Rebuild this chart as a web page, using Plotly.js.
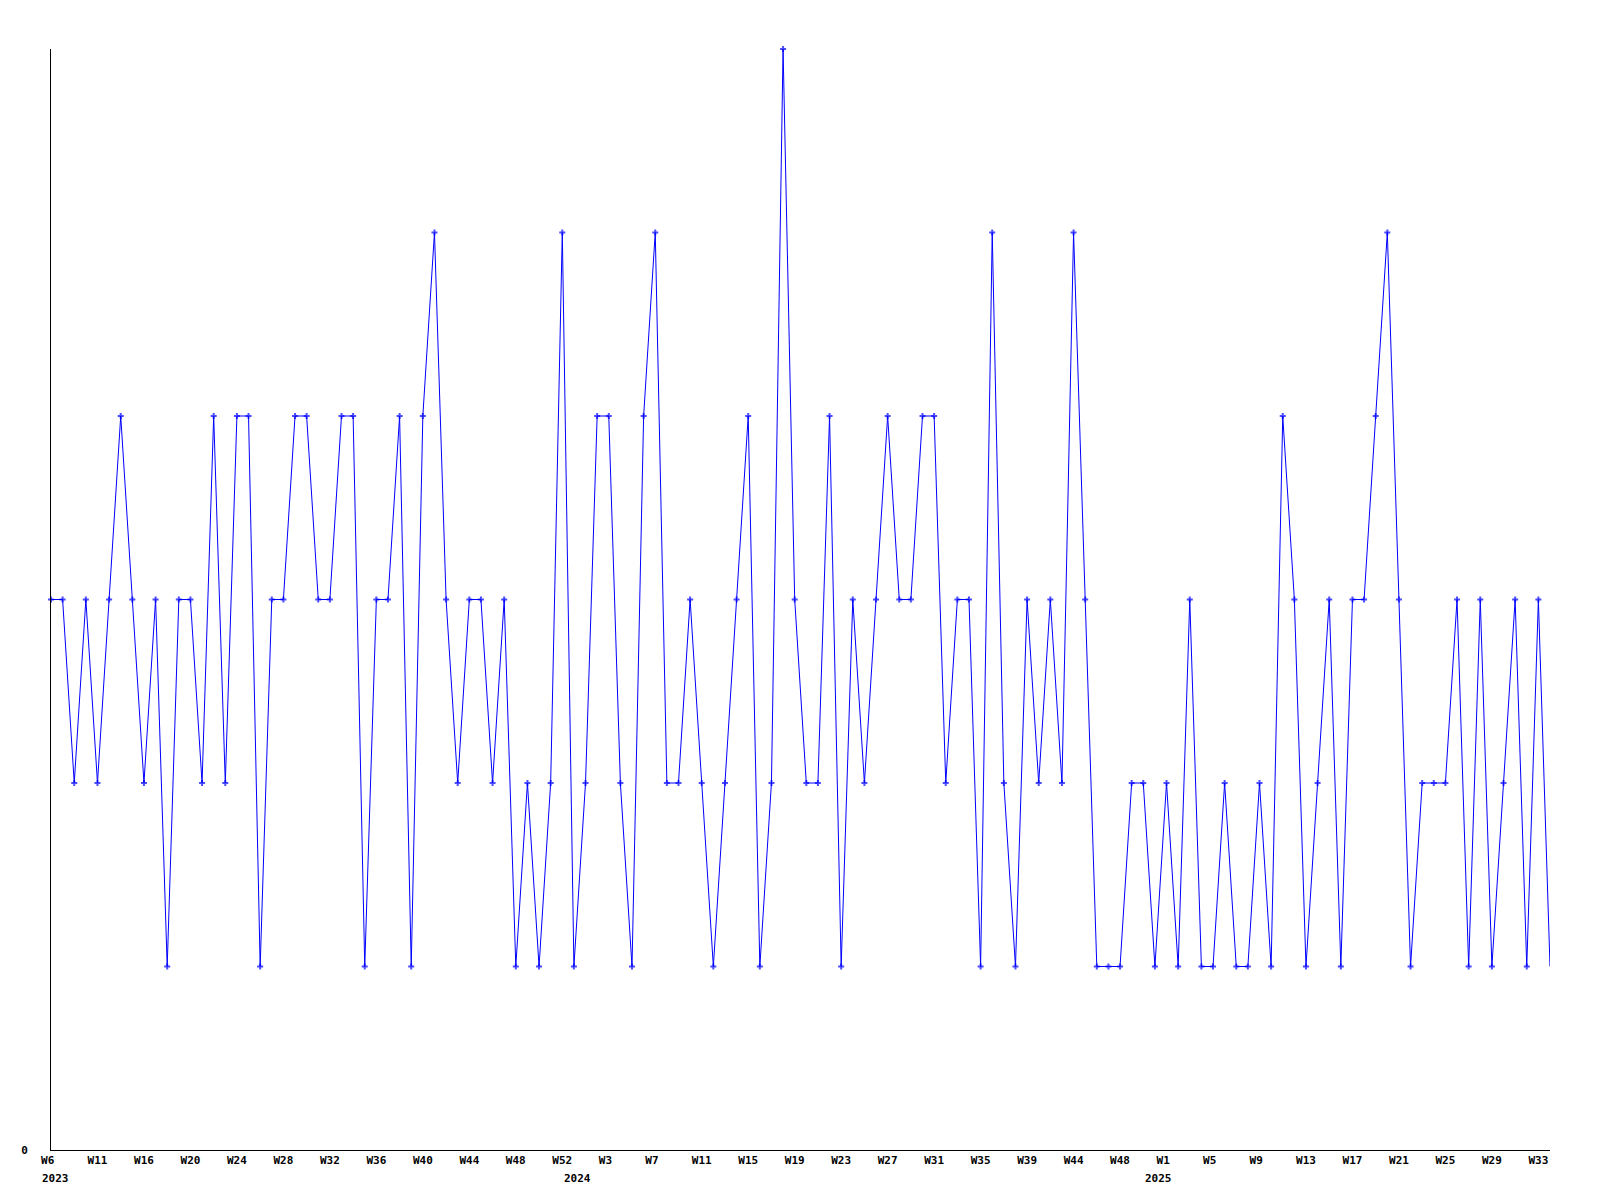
<!DOCTYPE html>
<html>
<head>
<meta charset="utf-8">
<script src="https://cdn.plot.ly/plotly-3.0.1.min.js"></script>
<style>
  html, body { margin: 0; padding: 0; background: #ffffff; }
  #chart { width: 1600px; height: 1200px; }
</style>
</head>
<body>
<div id="chart"></div>
<script>
// Weekly values, one per point, in order (2023 W6 onwards)
const weeklyValues = [
  3, 3, 2, 3, 2, 3, 4, 3, 2, 3,
  1, 3, 3, 2, 4, 2, 4, 4, 1, 3,
  3, 4, 4, 3, 3, 4, 4, 1, 3, 3,
  4, 1, 4, 5, 3, 2, 3, 3, 2, 3,
  1, 2, 1, 2, 5, 1, 2, 4, 4, 2,
  1, 4, 5, 2, 2, 3, 2, 1, 2, 3,
  4, 1, 2, 6, 3, 2, 2, 4, 1, 3,
  2, 3, 4, 3, 3, 4, 4, 2, 3, 3,
  1, 5, 2, 1, 3, 2, 3, 2, 5, 3,
  1, 1, 1, 2, 2, 1, 2, 1, 3, 1,
  1, 2, 1, 1, 2, 1, 4, 3, 1, 2,
  3, 1, 3, 3, 4, 5, 3, 1, 2, 2,
  2, 3, 1, 3, 1, 2, 3, 1, 3, 1
];

// Week tick labels, one for every 4th point
const weekTickLabels = [
  'W6', 'W11', 'W16', 'W20', 'W24', 'W28', 'W32', 'W36', 'W40', 'W44', 'W48', 'W52',
  'W3', 'W7', 'W11', 'W15', 'W19', 'W23', 'W27', 'W31', 'W35', 'W39', 'W44', 'W48',
  'W1', 'W5', 'W9', 'W13', 'W17', 'W21', 'W25', 'W29', 'W33'
];

// Year labels under the week labels
const yearLabels = ['2023', '2024', '2025'];

// ---- build chart ----
const tickStep = 4;
const xIdx = weeklyValues.map((_, i) => i);
const tickVals = weekTickLabels.map((_, i) => i * tickStep);
const tickText = weekTickLabels.map(s => s.padEnd(3, '\u00a0'));
const markerSizes = weeklyValues.map((_, i) => (i === weeklyValues.length - 1 ? 0 : 5));

const yearAnchorIdx = [0, 44, 94];
const yearShift = [-11, 0, 0];

const labelFont = { family: 'DejaVu Sans Mono, monospace', size: 11, color: '#000000', weight: 'bold' };

const trace = {
  x: xIdx,
  y: weeklyValues,
  type: 'scatter',
  mode: 'lines+markers',
  line: { color: '#0000ff', width: 1 },
  marker: { symbol: 'cross', size: markerSizes, color: '#0000ff', line: { width: 0 } },
  cliponaxis: false,
  hoverinfo: 'skip'
};

const annotations = yearLabels.map((t, i) => ({
  text: t,
  x: yearAnchorIdx[i],
  xref: 'x',
  y: 0,
  yref: 'paper',
  xanchor: 'left',
  yanchor: 'middle',
  xshift: yearShift[i],
  yshift: -28,
  showarrow: false,
  font: labelFont
}));

const layout = {
  width: 1600,
  height: 1200,
  paper_bgcolor: '#ffffff',
  plot_bgcolor: '#ffffff',
  showlegend: false,
  margin: { l: 51, r: 50, t: 49, b: 50, pad: 0 },
  xaxis: {
    range: [0, weeklyValues.length - 1],
    showgrid: false,
    zeroline: false,
    showline: true,
    linecolor: '#000000',
    linewidth: 1,
    ticks: '',
    tickmode: 'array',
    tickvals: tickVals,
    ticktext: tickText,
    tickangle: 0,
    tickfont: labelFont,
    fixedrange: true
  },
  yaxis: {
    range: [0, 6],
    showgrid: false,
    zeroline: false,
    showline: true,
    linecolor: '#000000',
    linewidth: 1,
    ticks: '',
    tickmode: 'array',
    tickvals: [0],
    ticktext: ['0'],
    tickfont: labelFont,
    ticklabelstandoff: 20,
    fixedrange: true
  },
  annotations: annotations
};

Plotly.newPlot('chart', [trace], layout, { displayModeBar: false, staticPlot: true });
</script>
</body>
</html>
